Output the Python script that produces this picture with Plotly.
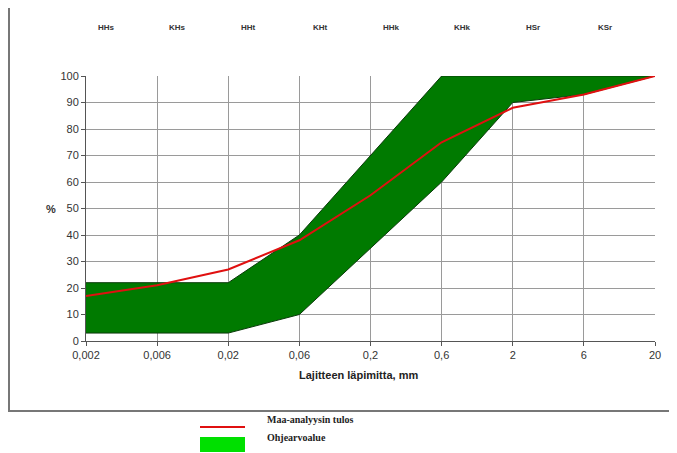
import plotly.graph_objects as go

sizes = ["0,002", "0,006", "0,02", "0,06", "0,2", "0,6", "2", "6", "20"]
upper = [22, 22, 22, 40, 70, 100, 100, 100, 100]
lower = [3, 3, 3, 10, 35, 60, 90, 93, 100]
result = [17, 21, 27, 38, 55, 75, 88, 93, 100]
fractions = ["HHs", "KHs", "HHt", "KHt", "HHk", "KHk", "HSr", "KSr"]

OFF = 8  # page body margin
W, H = 677 - OFF, 453 - OFF
# plot area in page pixels: x 86..655, y 76..341
PL, PR, PT, PB = 86, 655, 76, 341
L, T = PL - OFF, PT - OFF
R = W - (PR - OFF)
B = H - (PB - OFF)
pw, ph = PR - PL, PB - PT

def px(x):
    return (x - PL) / pw

def py(y):
    return (PB - y) / ph

idx = list(range(len(sizes)))

fig = go.Figure()
fig.add_trace(go.Scatter(
    x=idx + idx[::-1], y=upper + lower[::-1], fill="toself",
    fillcolor="#007a00", mode="lines",
    line=dict(color="#0a3a0a", width=1), showlegend=False, hoverinfo="skip"))
fig.add_trace(go.Scatter(
    x=idx, y=result, mode="lines",
    line=dict(color="#e01010", width=2), showlegend=False))

font = dict(family="Liberation Sans, Arial, sans-serif", size=11, color="#333")
fig.update_xaxes(
    range=[0, len(sizes) - 1], tickvals=idx, ticktext=sizes,
    showgrid=True, gridcolor="#9a9a9a", gridwidth=1,
    showline=True, linecolor="#555", linewidth=1,
    ticks="outside", ticklen=4, tickcolor="#555",
    tickfont=font, zeroline=False, fixedrange=True)
fig.update_yaxes(
    range=[0, 100], tickvals=list(range(0, 101, 10)),
    showgrid=True, gridcolor="#9a9a9a", gridwidth=1,
    showline=True, linecolor="#555", linewidth=1,
    ticks="outside", ticklen=4, tickcolor="#555",
    tickfont=font, zeroline=False, fixedrange=True)

ann = []
for i, f in enumerate(fractions):
    ann.append(dict(x=i + 0.29, y=py(27), xref="x", yref="paper", text="<b>" + f + "</b>",
                    showarrow=False, font=dict(family="Liberation Sans, Arial", size=8, color="#333"),
                    xanchor="center", yanchor="middle"))
ann.append(dict(x=px(358), y=py(383), xref="paper", yref="paper",
                text="<b>Lajitteen läpimitta, mm</b>", showarrow=False,
                font=dict(family="Liberation Sans, Arial", size=11, color="#222")))
ann.append(dict(x=px(44), y=py(209), xref="paper", yref="paper",
                text="<b>%</b>", showarrow=False,
                font=dict(family="Liberation Sans, Arial", size=11, color="#333")))
ann.append(dict(x=px(265), y=py(427), xref="paper", yref="paper",
                text="<b>Maa-analyysin tulos</b>", showarrow=False, xanchor="left",
                font=dict(family="Liberation Serif, Times New Roman, serif", size=10, color="#222")))
ann.append(dict(x=px(265), y=py(445), xref="paper", yref="paper",
                text="<b>Ohjearvoalue</b>", showarrow=False, xanchor="left",
                font=dict(family="Liberation Serif, Times New Roman, serif", size=10, color="#222")))

shapes = [
    dict(type="rect", xref="paper", yref="paper", x0=px(9), x1=px(690), y0=py(411), y1=py(5),
         line=dict(color="#777", width=2), fillcolor="rgba(0,0,0,0)", layer="below"),
    dict(type="line", xref="paper", yref="paper", x0=px(200), x1=px(245), y0=py(427), y1=py(427),
         line=dict(color="#e01010", width=2)),
    dict(type="rect", xref="paper", yref="paper", x0=px(200), x1=px(245), y0=py(452), y1=py(437),
         line=dict(width=0), fillcolor="#00e000"),
]

fig.update_layout(
    width=W, height=H, margin=dict(l=L, r=R, t=T, b=B),
    paper_bgcolor="white", plot_bgcolor="white",
    annotations=ann, shapes=shapes, showlegend=False)

fig.write_html("out.html", config={"displayModeBar": False})
